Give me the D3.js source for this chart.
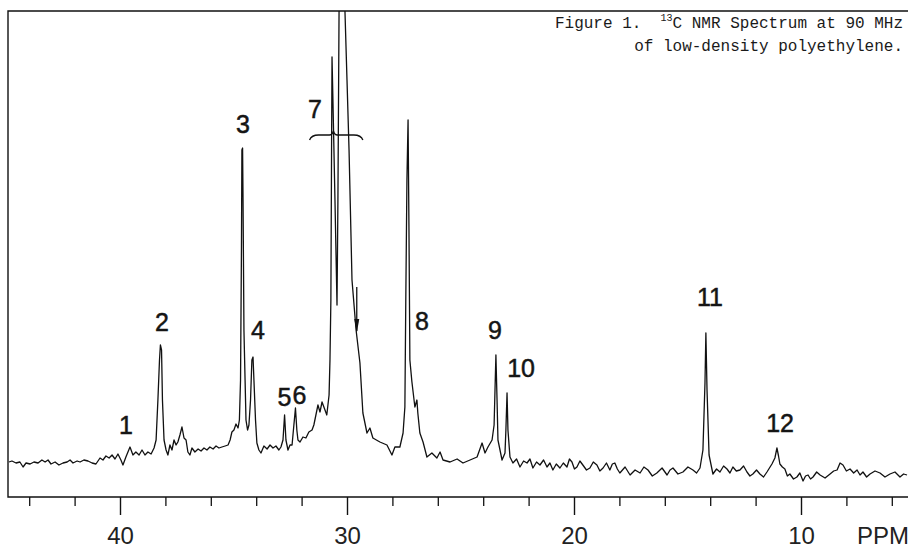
<!DOCTYPE html>
<html>
<head>
<meta charset="utf-8">
<script src="https://cdn.jsdelivr.net/npm/d3@7/dist/d3.min.js"></script>
<style>
  body { margin: 0; background: #fff; }
  .lbl { font-family: "Liberation Sans", Arial, sans-serif; font-size: 25px; fill: #151515; stroke: #151515; stroke-width: 0.5px; }
  .tick-lbl { font-family: "Liberation Sans", Arial, sans-serif; font-size: 24px; fill: #222; }
  .title { font-family: "Liberation Mono", "Courier New", monospace; font-size: 16px; fill: #1a1a1a; white-space: pre; }
</style>
</head>
<body>
<svg id="chart" width="908" height="550"></svg>
<script>
// chemical shift (ppm) and intensity (arbitrary units)
var ppm = [44.89,44.76,44.58,44.41,44.27,44.14,43.96,43.79,43.61,43.44,43.30,43.17,43.04,42.86,42.69,42.51,42.33,42.20,42.07,41.89,
  41.76,41.59,41.41,41.23,41.06,40.88,40.75,40.62,40.48,40.35,40.22,40.09,39.96,39.87,39.74,39.56,39.43,39.30,39.16,39.03,
  38.90,38.77,38.63,38.50,38.41,38.33,38.26,38.22,38.17,38.13,38.06,37.97,37.89,37.80,37.71,37.62,37.53,37.45,37.36,37.27,
  37.18,37.09,37.01,36.92,36.83,36.70,36.56,36.43,36.30,36.17,36.04,35.90,35.77,35.64,35.51,35.37,35.24,35.15,35.07,34.98,
  34.89,34.80,34.74,34.69,34.65,34.63,34.60,34.58,34.54,34.49,34.45,34.38,34.32,34.25,34.19,34.14,34.10,34.03,33.97,33.88,
  33.79,33.66,33.52,33.39,33.26,33.13,33.00,32.91,32.82,32.75,32.69,32.60,32.51,32.42,32.34,32.27,32.21,32.16,32.07,31.94,
  31.81,31.68,31.54,31.46,31.37,31.28,31.19,31.10,30.97,30.89,30.79,30.75,30.71,30.68,30.66,30.62,30.53,30.44,30.40,30.35,
  30.22,30.09,30.00,29.91,29.78,29.60,29.43,29.30,29.12,28.99,28.86,28.55,28.24,28.02,27.89,27.67,27.53,27.45,27.41,27.36,
  27.31,27.27,27.23,27.14,27.01,26.92,26.88,26.79,26.65,26.48,26.26,26.04,25.90,25.77,25.46,25.15,24.89,24.58,24.27,24.05,
  23.92,23.79,23.61,23.52,23.48,23.44,23.39,23.35,23.17,23.04,23.00,22.95,22.91,22.82,22.69,22.53,22.38,22.22,22.07,21.94,
  21.81,21.65,21.50,21.34,21.19,21.06,20.93,20.78,20.62,20.47,20.31,20.20,20.09,19.98,19.87,19.74,19.61,19.45,19.30,19.15,
  18.99,18.86,18.72,18.57,18.42,18.31,18.20,18.09,17.98,17.75,17.53,17.31,17.09,16.92,16.74,16.55,16.35,16.12,15.90,15.77,
  15.64,15.42,15.20,14.98,14.76,14.60,14.45,14.32,14.23,14.19,14.14,14.05,13.88,13.72,13.57,13.41,13.26,13.13,13.00,12.85,
  12.69,12.53,12.38,12.25,12.12,11.96,11.81,11.65,11.50,11.39,11.28,11.15,11.06,10.99,10.93,10.82,10.71,10.60,10.49,10.33,
  10.18,10.05,9.91,9.80,9.69,9.58,9.47,9.31,9.16,8.94,8.72,8.56,8.41,8.28,8.15,8.00,7.84,7.68,7.53,7.40,
  7.27,7.11,6.96,6.74,6.52,6.30,6.08,5.86,5.64,5.48,5.33];
var intensity = [35,36,34,35,30,34,33,35,34,37,35,37,33,35,32,34,35,37,34,36,
  35,37,36,34,33,39,37,41,39,42,38,43,37,32,40,50,42,45,42,47,
  42,45,43,49,57,97,137,152,147,97,57,47,42,52,47,57,52,55,62,70,
  59,57,45,42,49,45,48,46,49,47,50,48,51,49,50,51,52,57,65,67,
  73,69,77,117,247,347,349,297,167,117,77,67,72,97,137,140,117,77,54,47,
  44,51,48,52,49,51,47,50,57,82,57,47,52,52,72,89,67,57,55,60,
  59,65,67,72,82,92,85,95,87,82,102,137,197,347,440,397,297,192,297,486,
  597,486,417,347,217,167,134,84,64,69,59,55,52,42,50,50,64,90,197,317,
  377,267,137,115,90,97,84,64,55,40,44,39,45,37,35,38,34,37,40,54,
  44,50,57,72,107,142,97,57,37,44,67,104,67,40,34,38,30,36,34,38,
  29,35,32,37,30,34,27,33,29,34,30,38,35,28,30,36,32,27,29,35,
  32,26,29,34,27,33,34,28,24,30,22,27,24,30,27,21,24,29,22,27,
  29,23,25,30,27,24,29,47,114,164,107,42,23,28,25,31,28,24,30,26,
  27,31,25,21,23,27,23,20,25,29,33,39,49,41,33,30,28,21,23,18,
  20,24,16,21,22,18,20,25,22,19,23,26,27,34,32,26,28,24,27,22,
  25,20,23,26,24,20,23,25,20,23,22];

var majorTicks = [40, 30, 20, 10];
var minorTicks = [44, 42, 38, 36, 34, 32, 28, 26, 24, 22, 18, 16, 14, 12, 8, 6];
var unitLabel = "PPM";

var peakNames = ["1", "2", "3", "4", "5", "6", "7", "8", "9", "10", "11", "12"];
var peakPpm = [39.74, 38.15, 34.58, 33.92, 32.75, 32.10, 31.41, 26.70, 23.48, 22.33, 14.01, 10.92];
var peakLabelH = [63, 166, 364, 158, 91, 93, 379, 167, 158, 120, 191, 65];

var titleLine1 = ["Figure 1.  ", "13", "C NMR Spectrum at 90 MHz"];
var titleLine2 = "of low-density polyethylene.";

var svg = d3.select("#chart");
var x = d3.scaleLinear().domain([40, 10]).range([120, 801]);
var y = d3.scaleLinear().domain([0, 486]).range([497, 11]);

var xLeft = 8, xRight = 908, yTop = y(486), yBot = y(0);

svg.append("rect").attr("width", 908).attr("height", 550).attr("fill", "#fff");

svg.append("clipPath").attr("id", "plot")
  .append("rect").attr("x", xLeft).attr("y", yTop).attr("width", xRight - xLeft).attr("height", yBot - yTop);

// frame
svg.append("path")
  .attr("d", "M" + xRight + "," + yTop + "H" + xLeft + "V" + yBot + "H" + xRight)
  .attr("fill", "none").attr("stroke", "#111").attr("stroke-width", 1.4);

// ticks
var axis = svg.append("g").attr("transform", "translate(0," + yBot + ")");
axis.call(d3.axisBottom(x).tickValues(majorTicks).tickSize(18).tickFormat(d3.format("d")));
axis.call(function(g) { g.select(".domain").remove(); });
axis.attr("font-size", null).attr("font-family", null);
axis.selectAll(".tick line").attr("stroke", "#111").attr("stroke-width", 1.4);
axis.selectAll(".tick text").attr("class", "tick-lbl").attr("y", 47).attr("dy", 0).attr("fill", null);

var minor = svg.append("g").attr("transform", "translate(0," + yBot + ")");
minor.call(d3.axisBottom(x).tickValues(minorTicks).tickSize(9).tickFormat(""));
minor.call(function(g) { g.select(".domain").remove(); });
minor.selectAll(".tick line").attr("stroke", "#111").attr("stroke-width", 1.3);

svg.append("text").attr("class", "tick-lbl")
  .attr("x", x(10) + 56).attr("y", yBot + 47).text(unitLabel);

// spectrum
var pts = ppm.map(function(p, i) { return [p, intensity[i]]; });
var line = d3.line().x(function(d) { return x(d[0]); }).y(function(d) { return y(d[1]); });
svg.append("path").datum(pts)
  .attr("clip-path", "url(#plot)")
  .attr("d", line)
  .attr("fill", "none").attr("stroke", "#111").attr("stroke-width", 1.3)
  .attr("stroke-linejoin", "round");

// peak numbers
svg.selectAll(".lbl").data(peakNames).enter().append("text")
  .attr("class", "lbl")
  .attr("text-anchor", "middle")
  .attr("x", function(d, i) { return x(peakPpm[i]); })
  .attr("y", function(d, i) { return y(peakLabelH[i]); })
  .text(function(d) { return d; });

// brace over the peak 7 group
var bx0 = x(31.65), bx1 = x(29.3), bxm = x(30.6), by = y(362);
svg.append("path")
  .attr("d", "M" + bx0 + "," + (by + 5) + "Q" + (bx0 + 2) + "," + by + " " + (bx0 + 9) + "," + by +
    "H" + (bxm - 4) + "Q" + (bxm - 1) + "," + by + " " + bxm + "," + (by - 4) +
    "Q" + (bxm + 1) + "," + by + " " + (bxm + 4) + "," + by +
    "H" + (bx1 - 9) + "Q" + (bx1 - 2) + "," + by + " " + bx1 + "," + (by + 5))
  .attr("fill", "none").attr("stroke", "#111").attr("stroke-width", 1.3);

// shoulder arrow
var ax = x(29.57);
svg.append("line").attr("x1", ax).attr("x2", ax).attr("y1", y(210)).attr("y2", y(166))
  .attr("stroke", "#111").attr("stroke-width", 1.3);
svg.append("path")
  .attr("d", "M" + (ax - 2.5) + "," + y(178) + "L" + ax + "," + y(164) + "L" + (ax + 2.5) + "," + y(178) + "Z")
  .attr("fill", "#111");

// title
var t1 = svg.append("text").attr("class", "title").attr("text-anchor", "end")
  .attr("x", 903).attr("y", 28);
t1.append("tspan").text(titleLine1[0]);
t1.append("tspan").attr("font-size", "10px").attr("dy", -7).text(titleLine1[1]);
t1.append("tspan").attr("dy", 7).text(titleLine1[2]);
svg.append("text").attr("class", "title").attr("text-anchor", "end")
  .attr("x", 903).attr("y", 51).text(titleLine2);
</script>
</body>
</html>
